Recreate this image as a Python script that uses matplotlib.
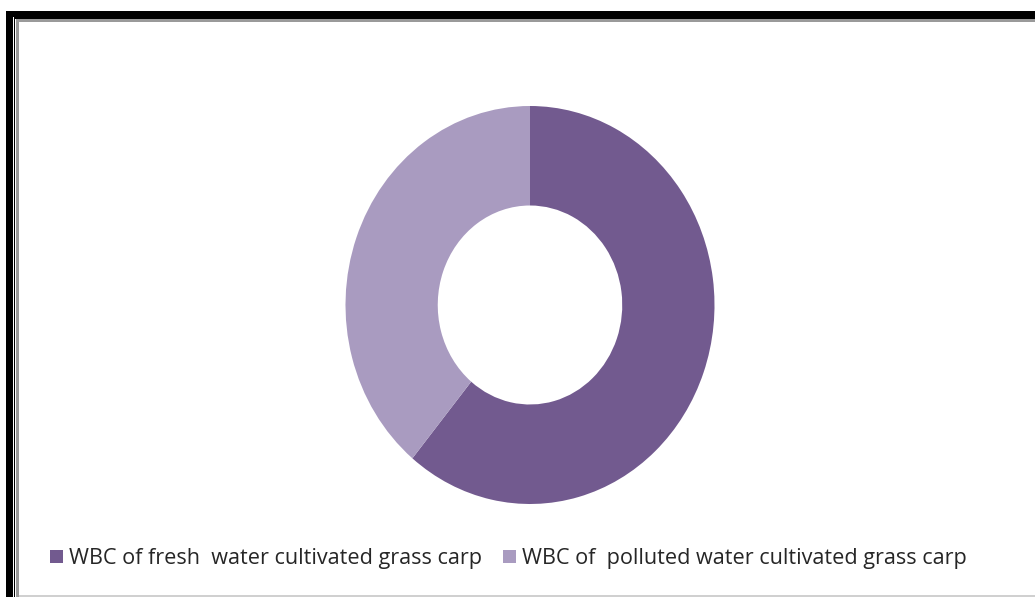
import matplotlib.pyplot as plt
from matplotlib.patches import Rectangle

# WBC share of the two groups of grass carp
labels = ["WBC of fresh  water cultivated grass carp",
          "WBC of  polluted water cultivated grass carp"]
values = [61, 39]
colors = ["#725A8F", "#A99BC0"]

W, H = 1035, 597
fig = plt.figure(figsize=(W / 100, H / 100), dpi=100)
fig.patch.set_facecolor("white")

# doughnut axes, a bit taller than wide
ax = fig.add_axes([(530 - 184.5) / W, (H - 504) / H, 369 / W, 398 / H])
ax.pie(values, colors=colors, startangle=90, counterclock=False,
       radius=1.0, wedgeprops=dict(width=0.5, edgecolor="none"))
ax.set_aspect("auto")
ax.set_xlim(-1, 1)
ax.set_ylim(-1, 1)
ax.axis("off")

# frame around the chart, in pixel units
def px_rect(x0, y0, x1, y1, c):
    fig.patches.append(Rectangle((x0 / W, 1 - y1 / H), (x1 - x0) / W, (y1 - y0) / H,
                                 transform=fig.transFigure, color=c, lw=0, zorder=5))

# thick outer black
px_rect(6, 11, 12.5, H, "black")
px_rect(6, 11, W, 16.5, "black")
# thin black
px_rect(13.5, 17, 15, H, "black")
px_rect(13.5, 17, W, 18.5, "black")
# grey shadow line
px_rect(15.5, 19, 19, H, "#9a9a9a")
px_rect(15.5, 19, W, 22, "#9a9a9a")
# light grey bottom edge
px_rect(19, 594.5, W, 597, "#d0d0d0")

# legend
ax_leg = fig.add_axes([0, 0, 1, 1])
ax_leg.set_xlim(0, W)
ax_leg.set_ylim(H, 0)
ax_leg.axis("off")
ax_leg.set_zorder(-1)
leg_x = [50, 503]
for lx, lab, c in zip(leg_x, labels, colors):
    ax_leg.add_patch(Rectangle((lx, 550), 13, 13, color=c, lw=0))
    ax_leg.text(lx + 19, 558.5, lab, fontsize=15.6, family="Open Sans",
                color="#262626", va="center", ha="left")

fig.savefig("out.png", dpi=100)
